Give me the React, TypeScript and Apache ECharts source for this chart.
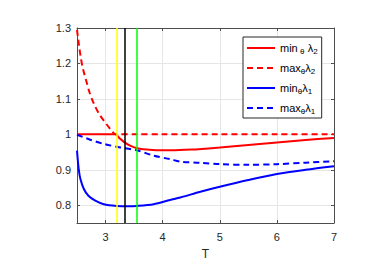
import React, { useEffect, useRef } from "react";
import * as echarts from "echarts";

// ---- data ----
const tMin2 = [2.5, 3.0, 3.17, 3.25, 3.32, 3.43, 3.55, 3.72, 3.9, 4.13, 4.5, 5, 5.5, 6, 6.5, 7];
const min2 = [1, 1, 1, 0.988, 0.979, 0.968, 0.961, 0.957, 0.955, 0.955, 0.957, 0.963, 0.97, 0.977, 0.984, 0.99];

const tMax2 = [2.5, 2.52, 2.54, 2.57, 2.6, 2.66, 2.72, 2.8, 2.89, 3.01, 3.12, 3.17, 3.5, 4, 5, 6, 7];
const max2 = [1.295, 1.27, 1.245, 1.213, 1.188, 1.152, 1.118, 1.085, 1.057, 1.03, 1.008, 1.0, 1, 1, 1, 1, 1];

const tMin1 = [2.5, 2.53, 2.56, 2.62, 2.7, 2.82, 2.97, 3.2, 3.38, 3.55, 3.84, 4.13, 4.31, 4.66, 5, 5.5, 6, 6.5, 7];
const min1 = [0.954, 0.902, 0.874, 0.846, 0.827, 0.813, 0.803, 0.798, 0.797, 0.798, 0.803, 0.815, 0.822, 0.838, 0.852, 0.871, 0.888, 0.9, 0.91];

const tMax1 = [2.5, 2.73, 2.97, 3.26, 3.55, 3.84, 4.13, 4.31, 4.66, 5, 5.5, 6, 6.5, 7];
const max1 = [0.999, 0.985, 0.973, 0.963, 0.955, 0.94, 0.93, 0.923, 0.92, 0.916, 0.914, 0.916, 0.92, 0.924];

const markerT = [3.19, 3.33, 3.54];
const markerColors = ["#ffff00", "#000000", "#00ff00"];

const xTicks = [3, 4, 5, 6, 7];
const yTicks = [0.8, 0.9, 1, 1.1, 1.2, 1.3];

const seriesNames = ["min2", "max2", "min1", "max1"];
const legendLabels: Record<string, string> = {
  min2: "{t|min}{s| θ} {t|λ}{s|2}",
  max2: "{t|max}{s|θ}{t|λ}{s|2}",
  min1: "{t|min}{s|θ}{t|λ}{s|1}",
  max1: "{t|max}{s|θ}{t|λ}{s|1}",
};

const zip = (a: number[], b: number[]) => a.map((x, i) => [x, b[i]]);

export default function App() {
  const ref = useRef<HTMLDivElement>(null);
  useEffect(() => {
    if (!ref.current) return;
    const chart = echarts.init(ref.current, undefined, { renderer: "svg" });
    const axisColor = "#4d4d4d";
    const labelColor = "#262626";
    const font = "Liberation Sans, Arial, Helvetica, sans-serif";
    const common = {
      axisLine: { show: true, lineStyle: { color: axisColor, width: 1 } },
      axisTick: { show: true, inside: true, length: 3, lineStyle: { color: axisColor } },
    };
    const lineSeries = (name: string, t: number[], v: number[], color: string, dashed: boolean) => ({
      name,
      type: "line",
      data: zip(t, v),
      showSymbol: false,
      symbol: "none",
      smooth: 0.3,
      z: 3,
      lineStyle: { color, width: 2, type: dashed ? [6, 4] : "solid" },
      itemStyle: { color },
    });
    chart.setOption({
      animation: false,
      backgroundColor: "#ffffff",
      textStyle: { fontFamily: font },
      grid: { left: 77, top: 28, right: 48, bottom: 49, containLabel: false },
      xAxis: [
        {
          type: "value",
          min: 2.5,
          max: 7,
          position: "bottom",
          name: "T",
          nameLocation: "middle",
          nameGap: 25,
          nameTextStyle: { color: labelColor, fontSize: 12, fontFamily: font },
          ...common,
          axisTick: { ...common.axisTick, customValues: xTicks },
          axisLabel: { customValues: xTicks, color: labelColor, fontSize: 11, margin: 8, fontFamily: font },
          splitLine: { show: true, lineStyle: { color: "#e6e6e6", width: 1 } },
        },
        {
          type: "value",
          min: 2.5,
          max: 7,
          position: "top",
          ...common,
          axisTick: { ...common.axisTick, customValues: xTicks },
          axisLabel: { show: false },
          splitLine: { show: false },
        },
      ],
      yAxis: [
        {
          type: "value",
          min: 0.75,
          max: 1.3,
          position: "left",
          ...common,
          axisTick: { ...common.axisTick, customValues: yTicks },
          axisLabel: { customValues: yTicks, color: labelColor, fontSize: 11, margin: 6, fontFamily: font },
          splitLine: { show: true, lineStyle: { color: "#e6e6e6", width: 1 } },
        },
        {
          type: "value",
          min: 0.75,
          max: 1.3,
          position: "right",
          ...common,
          axisTick: { ...common.axisTick, customValues: yTicks },
          axisLabel: { show: false },
          splitLine: { show: false },
        },
      ],
      legend: {
        data: seriesNames,
        left: 243,
        top: 37,
        orient: "vertical",
        backgroundColor: "#ffffff",
        borderColor: "#262626",
        borderWidth: 1,
        borderRadius: 0,
        padding: [4, 4, 3, 3],
        itemWidth: 28,
        itemHeight: 14,
        itemGap: 6,
        itemStyle: { opacity: 0, borderWidth: 0 },
        formatter: (name: string) => legendLabels[name],
        textStyle: {
          color: "#000000",
          fontFamily: font,
          rich: {
            t: { fontSize: 11, fontFamily: font, color: "#000", lineHeight: 14, verticalAlign: "middle" },
            s: { fontSize: 8, fontFamily: font, color: "#000", lineHeight: 14, verticalAlign: "bottom", padding: [6, 0, 0, 0] },
          },
        },
      },
      series: [
        lineSeries("min2", tMin2, min2, "#ff0000", false),
        lineSeries("max2", tMax2, max2, "#ff0000", true),
        lineSeries("min1", tMin1, min1, "#0000ff", false),
        lineSeries("max1", tMax1, max1, "#0000ff", true),
        {
          name: "markers",
          type: "line",
          data: [],
          z: 4,
          markLine: {
            silent: true,
            symbol: "none",
            label: { show: false },
            data: markerT.map((t, i) => ({
              xAxis: t,
              lineStyle: { color: markerColors[i], width: 1.5, type: "solid" },
            })),
          },
        },
      ],
    });
    return () => chart.dispose();
  }, []);
  return <div ref={ref} style={{ width: 382, height: 272, position: "absolute", left: 0, top: 0 }} />;
}
